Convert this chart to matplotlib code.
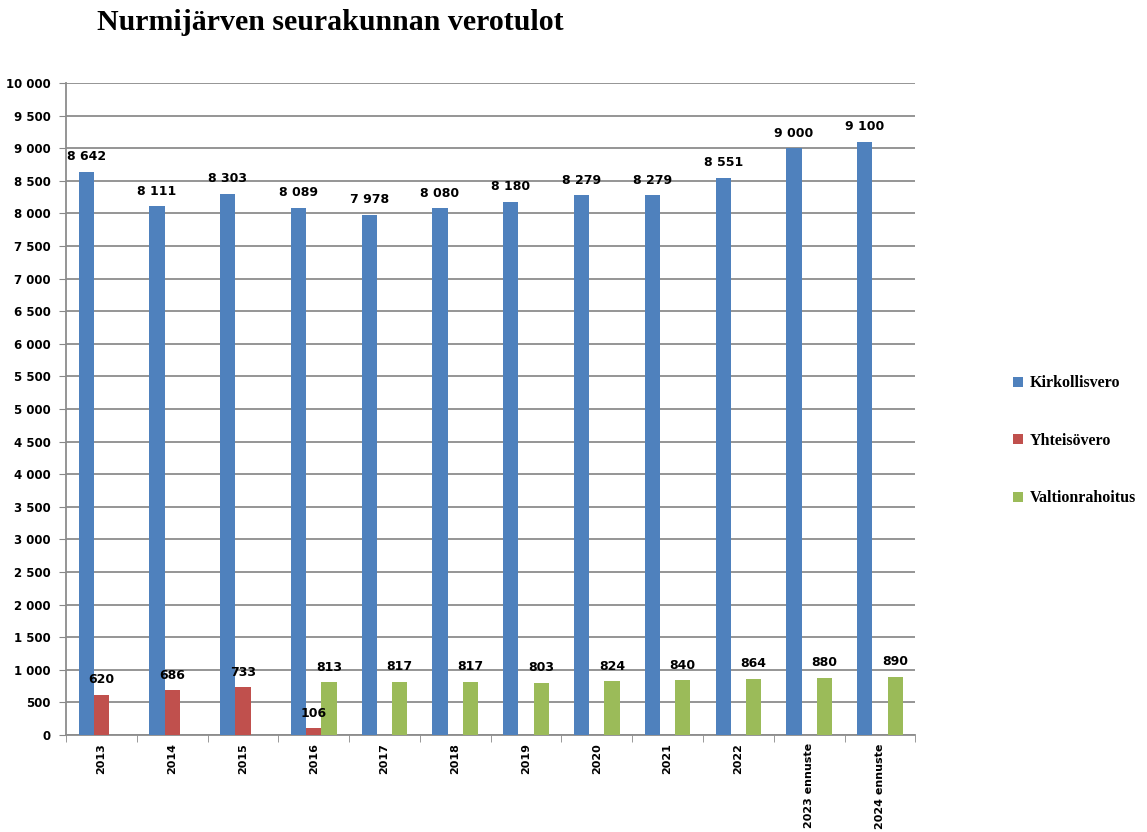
import numpy as np
import matplotlib.pyplot as plt
from matplotlib.ticker import FuncFormatter

years = ['2013', '2014', '2015', '2016', '2017', '2018', '2019', '2020',
         '2021', '2022', '2023 ennuste', '2024 ennuste']
kirkollisvero = [8642, 8111, 8303, 8089, 7978, 8080, 8180, 8279, 8279, 8551, 9000, 9100]
yhteisovero = [620, 686, 733, 106, None, None, None, None, None, None, None, None]
valtionrahoitus = [None, None, None, 813, 817, 817, 803, 824, 840, 864, 880, 890]

series = [('Kirkollisvero', kirkollisvero, '#4F81BD'),
          ('Yhteisövero', yhteisovero, '#C0504D'),
          ('Valtionrahoitus', valtionrahoitus, '#9BBB59')]

def fmt(v):
    return '{:,}'.format(int(v)).replace(',', ' ')

fig = plt.figure(figsize=(11.47, 8.32), dpi=100)
ax = fig.add_axes([0.0575, 0.1166, 0.7405, 0.7836])

x = np.arange(len(years))
w = 0.215
for i, (name, vals, col) in enumerate(series):
    xs = [xi + (i - 1) * w for xi, v in zip(x, vals) if v is not None]
    vs = [v for v in vals if v is not None]
    bars = ax.bar(xs, vs, width=w, color=col, label=name, zorder=3)
    for b, v in zip(bars, vs):
        ax.text(b.get_x() + b.get_width() / 2, v + 130, fmt(v), ha='center',
                va='bottom', fontsize=9, fontweight='bold', zorder=4)

ax.set_xlim(-0.5, len(years) - 0.5)
ax.set_ylim(0, 10000)
ax.set_yticks(np.arange(0, 10001, 500))
ax.yaxis.set_major_formatter(FuncFormatter(lambda v, p: fmt(v)))
ax.set_xticks(x)
ax.set_xticklabels(years, rotation=90, fontsize=8, fontweight='bold')
ax.set_xticks(np.arange(-0.5, len(years)), minor=True)
ax.tick_params(axis='x', which='major', length=0, pad=6)
ax.tick_params(axis='x', which='minor', length=5, color='#888888')
ax.tick_params(axis='y', labelsize=8.5, length=5, color='#888888', pad=6)
for lab in ax.get_yticklabels():
    lab.set_fontweight('bold')

ax.grid(axis='y', color='#8c8c8c', linewidth=1.3, zorder=0)
ax.set_axisbelow(True)
for s in ['top', 'right']:
    ax.spines[s].set_visible(False)
ax.spines['left'].set_color('#8c8c8c')
ax.spines['bottom'].set_color('#8c8c8c')
ax.spines['left'].set_linewidth(1.3)
ax.spines['bottom'].set_linewidth(1.3)

fig.text(0.288, 0.973, 'Nurmijärven seurakunnan verotulot', ha='center', va='center',
         fontsize=21.5, fontweight='bold', family='Liberation Serif')

fig.legend(loc='center left', bbox_to_anchor=(0.871, 0.47), frameon=False,
           prop={'family': 'Liberation Serif', 'weight': 'bold', 'size': 11.5},
           labelspacing=2.6, handlelength=0.6, handleheight=0.6, handletextpad=0.4)

fig.savefig('out.png', dpi=100)
